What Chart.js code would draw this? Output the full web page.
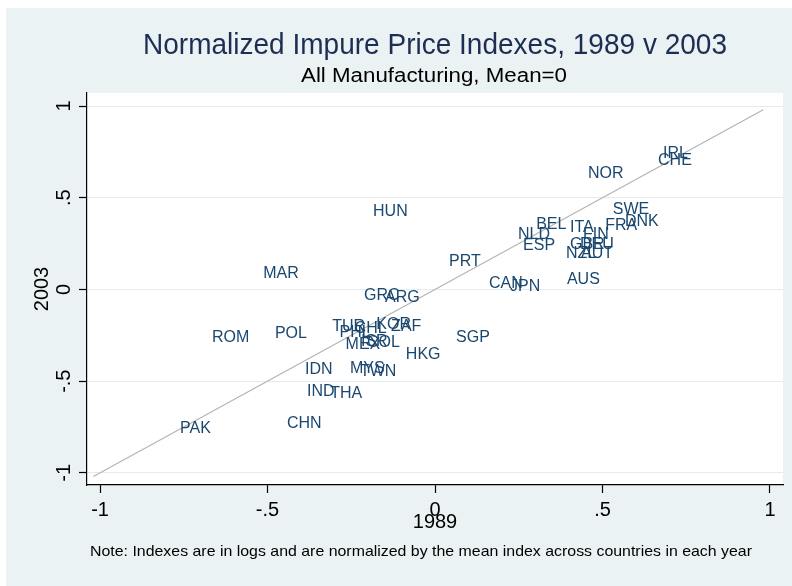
<!DOCTYPE html>
<html>
<head>
<meta charset="utf-8">
<script src="https://cdn.jsdelivr.net/npm/chart.js@4.4.1/dist/chart.umd.min.js"></script>
<style>
  html, body { margin: 0; padding: 0; background: #ffffff; }
  #wrap { width: 792px; height: 586px; }
</style>
</head>
<body>
<div id="wrap"><canvas id="chart" width="792" height="586"></canvas></div>
<script>
// Country codes and normalized indexes (1989 on x, 2003 on y)
const countries = ['IRL', 'CHE', 'NOR', 'SWE', 'DNK', 'FRA', 'BEL', 'ITA', 'NLD', 'FIN',
    'ESP', 'GBR', 'DEU', 'NZL', 'AUT', 'AUS', 'PRT', 'CAN', 'JPN', 'HUN',
    'MAR', 'GRC', 'ARG', 'ROM', 'POL', 'TUR', 'PHL', 'CHL', 'KOR', 'ZAF',
    'MEX', 'ISR', 'COL', 'HKG', 'SGP', 'IDN', 'MYS', 'TWN', 'IND', 'THA',
    'CHN', 'PAK'];
const index1989 = [0.672, 0.657, 0.448, 0.522, 0.558, 0.499, 0.293, 0.394, 0.239, 0.433,
    0.254, 0.394, 0.424, 0.382, 0.427, 0.385, 0.033, 0.152, 0.215, -0.194,
    -0.522, -0.221, -0.158, -0.675, -0.487, -0.316, -0.294, -0.249, -0.184, -0.140,
    -0.276, -0.230, -0.212, -0.096, 0.054, -0.397, -0.263, -0.233, -0.391, -0.322,
    -0.451, -0.770];
const index2003 = [0.749, 0.711, 0.640, 0.444, 0.379, 0.357, 0.362, 0.346, 0.308, 0.308,
    0.248, 0.253, 0.253, 0.204, 0.204, 0.063, 0.161, 0.041, 0.025, 0.433,
    0.095, -0.025, -0.035, -0.253, -0.232, -0.193, -0.226, -0.204, -0.183, -0.193,
    -0.292, -0.275, -0.280, -0.346, -0.253, -0.428, -0.422, -0.439, -0.548, -0.559,
    -0.722, -0.749];

// 45 degree reference line
const lineX = [-1.02, 0.98];
const lineY = [-1.02, 0.98];

// Axis ticks
const tickValues = [-1, -0.5, 0, 0.5, 1];
const tickLabels = ['-1', '-.5', '0', '.5', '1'];

const titleText = 'Normalized Impure Price Indexes, 1989 v 2003';
const subtitleText = 'All Manufacturing, Mean=0';
const noteText = 'Note: Indexes are in logs and are normalized by the mean index across countries in each year';

const FONT = '"Liberation Sans", Arial, sans-serif';
const LABEL_COLOR = '#1a476f';
const BG = '#eaf2f3';

const points = countries.map((c, i) => ({ x: index1989[i], y: index2003[i], label: c }));
const diagonal = lineX.map((x, i) => ({ x: x, y: lineY[i] }));

// Background: light outer area, white plot region
const backgroundPlugin = {
    id: 'stataBackground',
    beforeDraw(chart) {
        const ctx = chart.ctx;
        const a = chart.chartArea;
        ctx.save();
        ctx.fillStyle = '#ffffff';
        ctx.fillRect(0, 0, chart.width, chart.height);
        ctx.fillStyle = BG;
        ctx.fillRect(6, 8, chart.width - 6, chart.height - 8);
        ctx.fillStyle = '#ffffff';
        ctx.fillRect(a.left, a.top, a.right - a.left, a.bottom - a.top);
        ctx.restore();
    }
};

// draw text squeezed horizontally to a given width (narrow face look)
function narrowText(ctx, text, x, y, width, align) {
    const w = ctx.measureText(text).width;
    const k = width / w;
    ctx.save();
    ctx.translate(x, y);
    ctx.scale(k, 1);
    ctx.textAlign = align;
    ctx.fillText(text, 0, 0);
    ctx.restore();
}

// Marker labels (3 o'clock position) plus titles and note
const labelPlugin = {
    id: 'markerLabels',
    afterDatasetsDraw(chart) {
        const ctx = chart.ctx;
        const meta = chart.getDatasetMeta(0);
        ctx.save();
        ctx.font = '16px ' + FONT;
        ctx.fillStyle = LABEL_COLOR;
        ctx.textAlign = 'left';
        ctx.textBaseline = 'middle';
        meta.data.forEach((pt, i) => {
            ctx.fillText(points[i].label, pt.x + 3, pt.y + 1.5);
        });
        ctx.restore();
    },
    afterDraw(chart) {
        const ctx = chart.ctx;
        ctx.save();
        ctx.textBaseline = 'middle';
        ctx.fillStyle = '#1e2d53';
        ctx.font = '30px ' + FONT;
        narrowText(ctx, titleText, 435, 46, 584, 'center');
        ctx.fillStyle = '#000000';
        ctx.font = '20px ' + FONT;
        narrowText(ctx, subtitleText, 434, 76, 266, 'center');
        ctx.font = '15px ' + FONT;
        narrowText(ctx, noteText, 90, 552, 662, 'left');
        ctx.restore();
    }
};

const ctx = document.getElementById('chart').getContext('2d');
const chart = new Chart(ctx, {
    type: 'scatter',
    data: {
        datasets: [
            {
                data: points,
                pointRadius: 0,
                pointHoverRadius: 0,
                showLine: false
            },
            {
                type: 'line',
                data: diagonal,
                borderColor: '#b4b4b4',
                borderWidth: 1.2,
                pointRadius: 0,
                fill: false
            }
        ]
    },
    options: {
        responsive: false,
        animation: false,
        layout: { padding: { left: 0, top: 93, right: 9, bottom: 0 } },
        plugins: {
            legend: { display: false },
            tooltip: { enabled: false },
            title: { display: false }
        },
        scales: {
            x: {
                type: 'linear',
                min: -1.039,
                max: 1.039,
                afterBuildTicks: scale => { scale.ticks = tickValues.map(v => ({ value: v })); },
                afterFit: scale => { scale.height = 101; },
                border: { color: '#000000', width: 1.2 },
                grid: { drawOnChartArea: false, drawTicks: true, tickLength: 8, tickColor: '#000000', tickWidth: 1.2 },
                ticks: {
                    autoSkip: false,
                    maxRotation: 0,
                    padding: 5,
                    color: '#000000',
                    font: { family: FONT, size: 20 },
                    callback: (v) => tickLabels[tickValues.indexOf(v)]
                },
                title: {
                    display: true,
                    text: '1989',
                    color: '#000000',
                    font: { family: FONT, size: 20 },
                    padding: { top: 0, bottom: 52 }
                }
            },
            y: {
                type: 'linear',
                min: -1.066,
                max: 1.071,
                afterBuildTicks: scale => { scale.ticks = tickValues.map(v => ({ value: v })); },
                afterFit: scale => { scale.width = 87; },
                border: { color: '#000000', width: 1.2 },
                grid: { color: '#e3edf0', lineWidth: 1, drawTicks: true, tickLength: 8, tickColor: '#000000', tickWidth: 1.2 },
                ticks: {
                    autoSkip: false,
                    minRotation: 90,
                    maxRotation: 90,
                    crossAlign: 'center',
                    padding: 3,
                    color: '#000000',
                    font: { family: FONT, size: 20 },
                    callback: (v) => tickLabels[tickValues.indexOf(v)]
                },
                title: {
                    display: true,
                    text: '2003',
                    color: '#000000',
                    font: { family: FONT, size: 20 },
                    padding: { top: 30, bottom: 0 }
                }
            }
        }
    },
    plugins: [backgroundPlugin, labelPlugin]
});
</script>
</body>
</html>
